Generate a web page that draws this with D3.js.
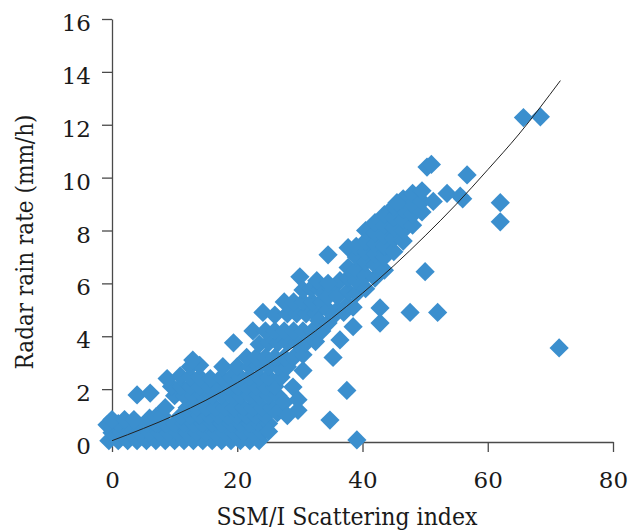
<!DOCTYPE html>
<html>
<head>
<meta charset="utf-8">
<script src="https://cdn.jsdelivr.net/npm/d3@7"></script>
<style>
  body { margin: 0; background: #fff; }
  svg { display: block; }
</style>
</head>
<body>
<svg id="chart"></svg>
<script>
// tick values
var xTicks = [0, 20, 40, 60, 80]
var yTicks = [0, 2, 4, 6, 8, 10, 12, 14, 16]

// radar rain rate vs scattering index
var groundRows = [
    [-0.5,0.05],[1,0.05],[2.5,0.05],[4,0.05],[5.5,0.05],[7,0.05],[8.5,0.05],[10,0.05],[11.5,0.05],[13,0.05],[14.5,0.05],[16,0.05],[17.5,0.05],[19,0.05],[20.5,0.05],[22,0.05],[23.5,0.05],
    [0,0.35],[1.5,0.35],[3,0.35],[4.5,0.35],[6,0.35],[7.5,0.35],[9,0.35],[10.5,0.35],[12,0.35],[13.5,0.35],[15,0.35],[16.5,0.35],[18,0.35],[19.5,0.35],[21,0.35],[22.5,0.35],[24,0.35],
    [-0.8,0.65],[1,0.7],[2.5,0.7],[4,0.7],[5.5,0.7],[7,0.7],[8.5,0.7],[10,0.7],[11.5,0.7],[13,0.7],[14.5,0.7],[16,0.7],[17.5,0.7],[19,0.7],[20.5,0.7],[22,0.7],[23.5,0.7],[25,0.7],
    [0,0.85],[2,0.85],[3.5,0.85],[6,0.9],[7,0.95],[8,1.0],[11,1.0],[12.5,1.0],[14,1.0],[15.5,1.0],[17,1.0],[18.5,1.0],[20,1.0],[21.5,1.0],[23,1.0],[24.5,1.0]
]
var lowBand = [
    [8.5,1.3],[12,1.3],[13.5,1.3],[15,1.3],[16.5,1.3],[18,1.3],[19.5,1.3],[21,1.3],[22.5,1.3],[24,1.3],[25.5,1.3],
    [4,1.78],[6.1,1.85],[10,1.75],[11.5,1.75],[13,1.75],[14.5,1.75],[16,1.75],[17.5,1.75],[19,1.75],[20.5,1.75],[22,1.75],[23.5,1.75],[25,1.75],[26.5,1.75],
    [9.5,2.1],[11,2.1],[12.5,2.1],[14,2.1],[15.5,2.1],[17,2.1],[18.5,2.1],[20,2.1],[21.5,2.1],[23,2.1],[24.5,2.1],[26,2.1],[28.9,2.08],
    [8.8,2.4],[10.9,2.5],[12.5,2.45],[14,2.45],[15.7,2.4],[17.5,2.45],[19,2.45],[20.5,2.45],[22,2.45],[23.5,2.45],[25,2.45],[27,2.45],
    [12.5,2.85],[14,2.9],[17.7,2.85],[20,2.85],[22,2.85],[23.5,2.85],[25,2.85],[26.5,2.85],[28,2.85],[30.5,2.7],
    [12.9,3.1],[21.5,3.2],[23,3.2],[24.5,3.2],[26,3.2],[27.5,3.2],[29,3.2],[30.5,3.3],
    [19.4,3.75],[23.5,3.7],[25,3.75],[26.5,3.75],[28,3.75],[29.5,3.75],[31,3.75],[32.5,3.8],
    [22.5,4.2],[24.5,4.2],[26,4.2],[27.5,4.2],[29,4.2],[30.5,4.2],[32,4.2],[33.5,4.2],
    [24.1,4.9],[26,4.8],[28,4.85],[29.5,4.85],[31,4.85],[32.5,4.85],
    [27.5,5.3],[29,5.3],[30.5,5.3],[32,5.3],[33.5,5.3],
    [25,0.4],[26.4,1.1],[27.5,1.5],[29.7,1.2],[29.7,1.6],[28,1.0]
]
var midBand = [
    [30,6.25],[30.5,5.75],[31.8,5.8],[33.2,5.75],[35,5.8],[32.7,6.1],[36.4,6.1],
    [33,4.6],[34.5,4.5],[34.5,5.0],[34.5,5.5],[34.5,6.0],[34.5,7.08],
    [35.5,4.8],[36,5.0],[36,5.5],[37,4.9],
    [37.7,5.2],[37.7,5.7],[37.7,6.2],[37.7,6.6],[37.7,7.35],
    [38.5,5.1],[39,5.6],[39,6.1],[39,6.5],[39,7.0],[39,7.4],
    [40.5,5.8],[40.5,6.3],[40.5,6.8],[40.5,7.2],[40.5,7.6],[40.5,8.0],
    [42,6.2],[42,6.7],[42,7.1],[42,7.5],[42,7.9],[42,8.3],
    [43.5,6.5],[43.5,7.0],[43.5,7.4],[43.5,7.8],[43.5,8.2],[43.5,8.6],
    [45,7.2],[45,7.7],[45,8.1],[45,8.5],[45,8.9],
    [46.5,7.6],[46.5,8.0],[46.5,8.4],[46.5,8.8],[46.5,9.2],
    [48,8.2],[48,8.6],[48,9.0],[48,9.4],
    [49.5,8.7],[49.5,9.1],[49.5,9.5],
    [51.3,9.1],[53.5,9.4],[55.6,9.3],[56,9.2],[45.5,9.05]
]
var outliers = [
    [35.3,3.2],[36.4,3.86],[37.5,1.95],[34.8,0.83],[39.1,0.08],[38.5,4.36],
    [42.8,4.5],[42.8,5.07],[47.6,4.9],[50,6.44],[52,4.9],
    [50.3,10.4],[51,10.5],[56.7,10.1],[62,9.05],[62,8.33],
    [65.7,12.27],[68.4,12.3],[71.4,3.56]
]
var scatterPoints = groundRows.concat(lowBand, midBand, outliers)

// fitted curve as traced on the figure
var trendLine = [
    [0,0.05],[5,0.51],[10,1.01],[15,1.58],[20,2.24],[25,2.96],[30,3.77],[35,4.66],
    [40,5.63],[45,6.67],[50,7.8],[55,9.0],[60,10.3],[65,11.65],[71.6,13.67]
]

var fontFamily = "'DejaVu Serif', serif"

var dimensions = {
    width: 628,
    height: 531,
    margin: { top: 19, bottom: 89, left: 112, right: 15 }
}

var svg = d3.select("#chart")
    .attr("width", dimensions.width)
    .attr("height", dimensions.height)
    .style("font-family", fontFamily)

var xScale = d3.scaleLinear()
    .domain([0, 80])
    .range([dimensions.margin.left, dimensions.width - dimensions.margin.right])
var yScale = d3.scaleLinear()
    .domain([0, 16])
    .range([dimensions.height - dimensions.margin.bottom, dimensions.margin.top])

var axisColor = "#4a4a4a"

var xAxisGen = d3.axisBottom(xScale).tickValues(xTicks).tickSize(10).tickSizeOuter(0).tickPadding(20)
var xAxis = svg.append("g")
    .attr("transform", `translate(0, ${yScale(0)})`)
    .call(xAxisGen)
var yAxisGen = d3.axisLeft(yScale).tickValues(yTicks).tickSize(10).tickSizeOuter(0).tickPadding(11)
var yAxis = svg.append("g")
    .attr("transform", `translate(${xScale(0)}, 0)`)
    .call(yAxisGen)

svg.selectAll("g").attr("font-family", null)
svg.selectAll(".domain, .tick line").attr("stroke", axisColor).attr("stroke-width", 1.3)
svg.selectAll(".tick text")
    .style("font-family", fontFamily)
    .attr("font-size", 23)
    .attr("fill", "#1a1a1a")
yAxis.selectAll(".tick text").attr("dy", "0.5em")

var diamond = d3.symbol().type(d3.symbolSquare).size(185)
svg.append("g")
    .selectAll("path")
    .data(scatterPoints)
    .enter()
    .append("path")
    .attr("d", diamond)
    .attr("transform", d => `translate(${xScale(d[0])}, ${yScale(d[1])}) rotate(45)`)
    .attr("fill", "#3b8fce")

var lineGen = d3.line()
    .x(d => xScale(d[0]))
    .y(d => yScale(d[1]))
    .curve(d3.curveMonotoneX)
svg.append("path")
    .datum(trendLine)
    .attr("d", lineGen)
    .attr("fill", "none")
    .attr("stroke", "#222")
    .attr("stroke-width", 1)

svg.append("text")
    .style("font-family", fontFamily)
    .attr("text-anchor", "middle")
    .attr("font-size", 24)
    .attr("fill", "#1a1a1a")
    .attr("textLength", 261)
    .attr("lengthAdjust", "spacingAndGlyphs")
    .attr("x", 347)
    .attr("y", 525)
    .text("SSM/I Scattering index")

svg.append("text")
    .style("font-family", fontFamily)
    .attr("text-anchor", "middle")
    .attr("font-size", 24)
    .attr("fill", "#1a1a1a")
    .attr("textLength", 255)
    .attr("lengthAdjust", "spacingAndGlyphs")
    .attr("transform", "translate(33, 242) rotate(-90)")
    .text("Radar rain rate (mm/h)")
</script>
</body>
</html>
